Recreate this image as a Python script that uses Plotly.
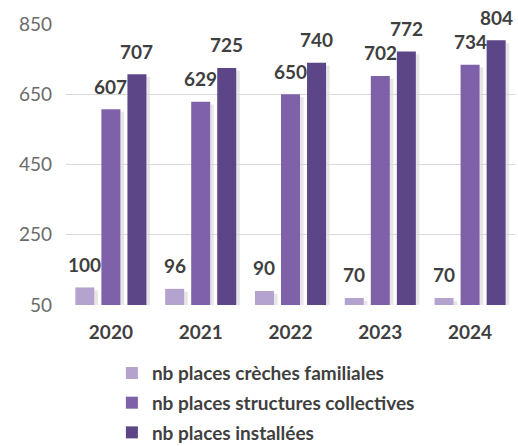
import plotly.graph_objects as go

years = ["2020", "2021", "2022", "2023", "2024"]
creches_familiales = [100, 96, 90, 70, 70]
structures_collectives = [607, 629, 650, 702, 734]
places_installees = [707, 725, 740, 772, 804]

series_names = [
    "nb places crèches familiales",
    "nb places structures collectives",
    "nb places installées",
]
series_values = [creches_familiales, structures_collectives, places_installees]
colors = ["#b4a3cf", "#7e61a8", "#5c4687"]

FONT = "Lato"
BARGAP = 0.13
GROUPGAP = 0.27
Y_MIN = 50

fig = go.Figure()
for name, vals, col in zip(series_names, series_values, colors):
    fig.add_trace(go.Bar(
        x=years, y=vals, name=name,
        marker=dict(color=col, line=dict(width=0)),
        legendgroup=name,
    ))

slot = (1 - BARGAP) / 3
bar_w = slot * (1 - GROUPGAP)
annotations = []
shapes = []
for k, vals in enumerate(series_values):
    for i, v in enumerate(vals):
        cx = i + (k - 1) * slot
        annotations.append(dict(
            x=cx, y=v, xref="x", yref="y",
            text=str(v), showarrow=False, yanchor="middle", yshift=23,
            font=dict(family=FONT, size=19, color="#3f3f3f", weight="bold"),
        ))
        # soft drop shadow on the right side of each bar
        shapes.append(dict(
            type="rect", xref="x", yref="y", layer="below",
            x0=cx + bar_w / 2, x1=cx + bar_w / 2 + 0.04,
            y0=Y_MIN, y1=v - 8,
            fillcolor="rgba(90,90,90,0.15)", line=dict(width=0),
        ))

fig.update_layout(
    width=518, height=446,
    margin=dict(l=66, r=3, t=24, b=141, autoexpand=False),
    paper_bgcolor="white", plot_bgcolor="white",
    barmode="group", bargap=BARGAP, bargroupgap=GROUPGAP,
    font=dict(family=FONT, color="#595959"),
    xaxis=dict(
        type="category", showgrid=False, showline=False, ticks="",
        ticklabelstandoff=14, automargin=False,
        tickfont=dict(family=FONT, size=19, color="#3f3f3f", weight="bold"),
    ),
    yaxis=dict(
        range=[Y_MIN, 850], tickvals=[50, 250, 450, 650, 850],
        showgrid=True, gridcolor="#d9d9d9", gridwidth=1,
        zeroline=False, showline=False, ticks="",
        ticklabelstandoff=13, automargin=False,
        tickfont=dict(family=FONT, size=19, color="#6b6b6b"),
    ),
    legend=dict(
        orientation="v", xref="container", yref="container",
        x=0.216, xanchor="left", y=0.206, yanchor="top",
        font=dict(family=FONT, size=19, color="#3f3f3f", weight="bold"),
        tracegroupgap=2, itemwidth=30, bgcolor="rgba(0,0,0,0)",
    ),
    annotations=annotations,
    shapes=shapes,
    showlegend=True,
)

fig.write_html(
    "out.html",
    config={"displayModeBar": False},
    post_script="document.body.style.margin='0';document.body.style.overflow='hidden';",
)
